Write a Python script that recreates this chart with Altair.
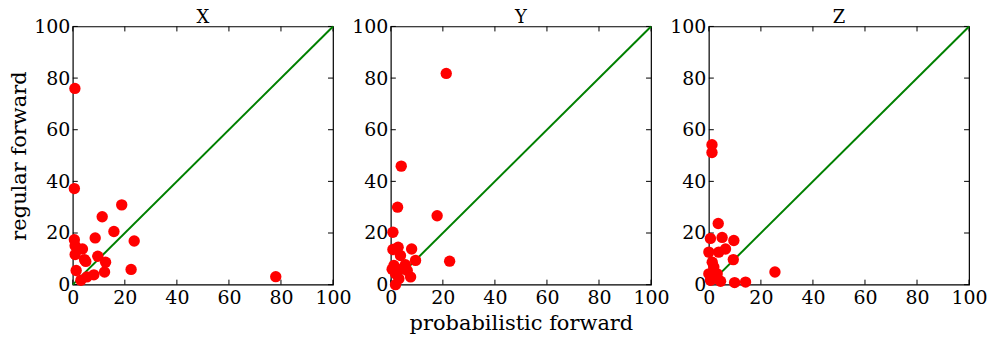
import altair as alt
import pandas as pd

panels = ["X", "Y", "Z"]

xs_X = [0.8, 78.0, 0.6, 18.8, 11.3, 15.8, 23.6, 8.6, 0.6, 3.7, 0.9, 0.9, 4.5, 9.6, 12.6, 1.3, 12.2, 22.4, 8.1, 5.4, 3.1, 5.0]
ys_X = [76.0, 3.1, 37.2, 30.9, 26.3, 20.6, 16.9, 18.1, 17.4, 13.8, 15.1, 11.7, 9.7, 11.0, 8.7, 5.5, 4.9, 5.9, 3.8, 3.0, 1.7, 9.0]

xs_Y = [21.3, 4.0, 2.6, 17.8, 0.8, 2.8, 0.8, 8.0, 3.7, 9.5, 22.6, 1.2, 5.6, 4.4, 7.6, 1.8, 1.8, 3.1, 6.3, 0.5]
ys_Y = [81.8, 45.9, 30.0, 26.7, 20.3, 14.5, 13.6, 13.8, 11.3, 9.4, 9.1, 7.4, 7.7, 6.2, 3.0, 4.2, 0.0, 2.3, 5.5, 6.0]

xs_Z = [1.2, 1.2, 3.6, 0.6, 5.1, 9.6, 0.0, 6.4, 3.8, 9.4, 1.3, 1.9, 0.0, 3.2, 25.4, 4.5, 0.6, 9.9, 14.1, 2.5]
ys_Z = [54.2, 51.2, 23.7, 17.9, 18.3, 17.1, 12.6, 13.8, 12.6, 9.7, 8.7, 6.8, 4.2, 4.2, 4.9, 1.3, 1.7, 0.8, 1.0, 2.5]

tick_values = [0, 20, 40, 60, 80, 100]
diag = [0, 100]

FONT = "DejaVu Serif"
W = 261
H = 259
TL = 5  # inner tick length


def panel(name, xs, ys, y_title, x_title):
    df = pd.DataFrame({"x": xs, "y": ys})
    xscale = alt.Scale(domain=[0, 100], nice=False, zero=False)
    yscale = alt.Scale(domain=[0, 100], nice=False, zero=False)
    xaxis = alt.Axis(values=tick_values, format="d", domain=False, ticks=False, grid=False,
                     labelPadding=4, labelFlush=False, labelFontSize=19, labelFont=FONT,
                     labelColor="black", title=x_title if x_title else None,
                     titleFont=FONT, titleFontSize=21, titleFontWeight="normal",
                     titleColor="black", titlePadding=5)
    yaxis = alt.Axis(values=tick_values, format="d", domain=False, ticks=False, grid=False,
                     labelPadding=3, labelFlush=False, labelFontSize=19, labelFont=FONT,
                     labelColor="black", title=y_title if y_title else None,
                     titleFont=FONT, titleFontSize=21, titleFontWeight="normal",
                     titleColor="black", titlePadding=4)
    pts = alt.Chart(df).mark_circle(size=130, color="#ff0000", opacity=1, clip=False).encode(
        x=alt.X("x:Q", scale=xscale, axis=xaxis),
        y=alt.Y("y:Q", scale=yscale, axis=yaxis),
    )
    ddf = pd.DataFrame({"x": diag, "y": diag})
    line = alt.Chart(ddf).mark_line(color="#008000", strokeWidth=2).encode(
        x=alt.X("x:Q", scale=xscale), y=alt.Y("y:Q", scale=yscale)
    )
    tdf = pd.DataFrame({"t": tick_values})
    tb = alt.Chart(tdf).mark_rule(color="black", strokeWidth=1).encode(
        x=alt.X("t:Q", scale=xscale), y=alt.value(H), y2=alt.value(H - TL))
    tt = alt.Chart(tdf).mark_rule(color="black", strokeWidth=1).encode(
        x=alt.X("t:Q", scale=xscale), y=alt.value(0), y2=alt.value(TL))
    tl = alt.Chart(tdf).mark_rule(color="black", strokeWidth=1).encode(
        y=alt.Y("t:Q", scale=yscale), x=alt.value(0), x2=alt.value(TL))
    tr = alt.Chart(tdf).mark_rule(color="black", strokeWidth=1).encode(
        y=alt.Y("t:Q", scale=yscale), x=alt.value(W), x2=alt.value(W - TL))
    return alt.layer(tb, tt, tl, tr, line, pts).properties(
        width=W, height=H,
        title=alt.TitleParams(name, font=FONT, fontSize=18, fontWeight="normal",
                              color="black", offset=-10),
    )


pX = panel(panels[0], xs_X, ys_X, "regular forward", None)
pY = panel(panels[1], xs_Y, ys_Y, None, "probabilistic forward")
pZ = panel(panels[2], xs_Z, ys_Z, None, None)

chart = alt.hconcat(pX, pY, pZ, spacing=58, bounds="flush").properties(
    padding={"left": 0, "top": 0, "right": 0, "bottom": 0},
    background="white",
).configure_view(stroke="black", strokeWidth=1.2)

chart.save("out.html", embed_options={"renderer": "svg", "actions": False})
